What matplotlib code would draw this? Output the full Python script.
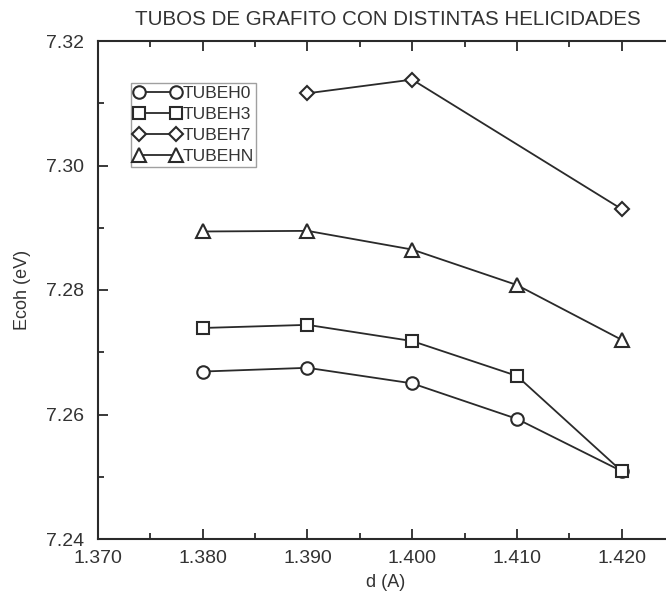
import matplotlib
matplotlib.use("Agg")
import matplotlib.pyplot as plt
from matplotlib.ticker import MultipleLocator, FixedLocator

plt.rcParams['font.family'] = ['Liberation Sans', 'DejaVu Sans']

# Bond length d (Angstrom) and cohesive energy (eV) per tube helicity
d_values = [1.380, 1.390, 1.400, 1.410, 1.420]
d_h7 = [1.390, 1.400, 1.420]

tubeh0 = [7.2669, 7.2675, 7.2650, 7.2593, 7.2509]
tubeh3 = [7.2739, 7.2744, 7.2718, 7.2662, 7.2509]
tubeh7 = [7.3116, 7.3138, 7.2930]
tubehn = [7.2894, 7.2895, 7.2865, 7.2808, 7.2720]

x_ticks = [1.370, 1.380, 1.390, 1.400, 1.410, 1.420]
x_tick_labels = ["1.370", "1.380", "1.390", "1.400", "1.410", "1.420"]
y_ticks = [7.24, 7.26, 7.28, 7.30, 7.32]
y_tick_labels = ["7.24", "7.26", "7.28", "7.30", "7.32"]

W, H = 666, 600
fig = plt.figure(figsize=(W / 100, H / 100), dpi=100)
# axes run to d = 1.425, slightly past the right edge of the figure
ax = fig.add_axes([98 / W, (H - 539) / H, 576 / W, 498 / H])

ink = "#2a2a2a"
text_c = "#333333"
common = dict(color=ink, lw=1.3, mfc="white", mec=ink, mew=1.5, markersize=9)
ax.plot(d_values, tubeh0, marker="o", label="TUBEH0", **common)
ax.plot(d_values, tubeh3, marker="s", label="TUBEH3", **dict(common, markersize=8.5))
ax.plot(d_h7, tubeh7, marker="D", label="TUBEH7", **dict(common, markersize=7.5))
ax.plot(d_values, tubehn, marker="^", label="TUBEHN", **dict(common, markersize=10))

ax.set_xlim(1.370, 1.425)
ax.set_ylim(7.24, 7.32)
ax.xaxis.set_major_locator(FixedLocator(x_ticks))
ax.set_xticklabels(x_tick_labels)
ax.xaxis.set_minor_locator(MultipleLocator(0.005))
ax.yaxis.set_major_locator(FixedLocator(y_ticks))
ax.set_yticklabels(y_tick_labels)
ax.yaxis.set_minor_locator(MultipleLocator(0.01))

ax.tick_params(which="both", direction="in", top=True, right=False,
               colors=ink, labelcolor=text_c, labelsize=14, width=1.3)
ax.tick_params(which="major", length=7)
ax.tick_params(which="minor", length=4)
ax.tick_params(axis="x", which="major", pad=8)
ax.tick_params(axis="y", which="major", pad=10)
for s in ax.spines.values():
    s.set_color(ink)
    s.set_linewidth(1.5)

ax.set_xlabel("d (A)", fontsize=13, color=text_c, labelpad=5)
ax.set_ylabel("Ecoh (eV)", fontsize=13, color=text_c, labelpad=11)
fig.text(0.582, 0.968, "TUBOS DE GRAFITO CON DISTINTAS HELICIDADES",
         ha="center", va="center", fontsize=14.8, color=text_c)

leg = ax.legend(loc="upper left", bbox_to_anchor=((131 - 98) / 576, (539 - 83) / 498),
                numpoints=2, handlelength=2.75, handletextpad=0.05, labelspacing=0.34,
                borderpad=0.15, borderaxespad=0, fontsize=12.5, frameon=True,
                fancybox=False, edgecolor="#888888")
leg.get_frame().set_linewidth(1.0)
for t in leg.get_texts():
    t.set_color(text_c)

fig.savefig("out.png", dpi=100, facecolor="white")
